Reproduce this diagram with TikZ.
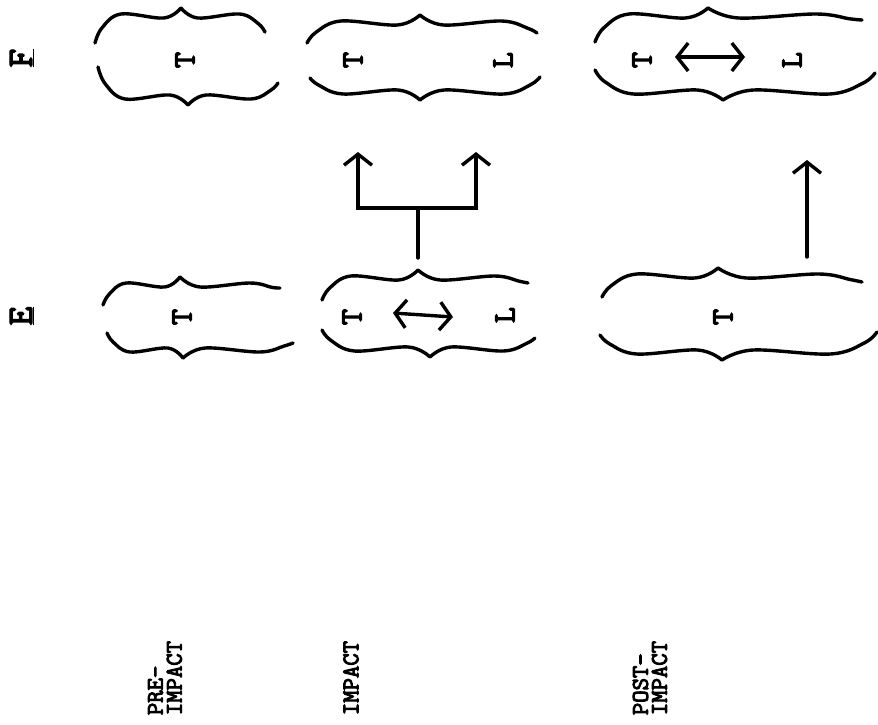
\documentclass[tikz,border=0pt]{standalone}
\usepackage{fontspec}
\newfontfamily\tw[FakeBold=4]{Latin Modern Mono}
\usetikzlibrary{arrows.meta}
\tikzset{
  brace/.style={line width=3.4pt, line cap=round, line join=round},
  conn/.style={line width=3.4pt, line cap=round, line join=miter},
  arr/.style={conn, -{Straight Barb[length=11pt,width=28pt,line width=3.4pt]}},
  darr/.style={conn, {Straight Barb[length=11pt,width=28pt,line width=3.4pt]}-{Straight Barb[length=11pt,width=28pt,line width=3.4pt]}},
  letter/.style={font=\tw\fontsize{31}{31}\selectfont, rotate=90, inner sep=0pt},
  head/.style={font=\tw\fontsize{36}{36}\selectfont, rotate=90, inner sep=0pt},
  phase/.style={font=\tw\fontsize{24}{19}\selectfont, rotate=90, inner sep=0pt, align=left},
}
% horizontal brace: x0 y0 (left end), xc yc (cusp), x1 y1 (right end), o (-1 cusp up, +1 cusp down)
\newcommand\hbr[7]{%
  \draw[brace] plot[smooth,tension=0.6] coordinates {(#1,#2)
    ({#1+0.08*(#3-#1)},{#4-#7*10+0.4*(#2-#4+#7*10)})
    ({#1+0.3*(#3-#1)},{#4-#7*10+#7*4})
    ({#1+0.8*(#3-#1)},{#4-#7*10})
    (#3,#4)};
  \draw[brace] plot[smooth,tension=0.6] coordinates {(#5,#6)
    ({#5-0.08*(#5-#3)},{#4-#7*10+0.4*(#6-#4+#7*10)})
    ({#5-0.3*(#5-#3)},{#4-#7*10+#7*4})
    ({#5-0.8*(#5-#3)},{#4-#7*10})
    (#3,#4)};
}
\begin{document}
\begin{tikzpicture}[x=1pt,y=-1pt]
\useasboundingbox (0,0) rectangle (878,724);

% column headings
\node[head] (hF) at (22,58) {\underline{F}};
\node[head] (hE) at (22,316) {\underline{E}};

% braces, F row
\hbr{95}{43}{181}{8}{265}{32}{-1}
\hbr{98}{67}{188}{105}{278}{83}{1}
\hbr{307}{43}{420}{15}{537}{33}{-1}
\hbr{310}{78}{420}{100}{540}{77}{1}
\hbr{595}{42}{708}{8}{862}{20}{-1}
\hbr{595}{70}{723}{100}{875}{73}{1}
% braces, E row
\hbr{103}{305}{180}{277}{280}{288}{-1}
\hbr{107}{333}{183}{358}{293}{343}{1}
\hbr{322}{300}{418}{270}{528}{283}{-1}
\hbr{322}{330}{430}{357}{535}{338}{1}
\hbr{602}{297}{718}{268}{862}{282}{-1}
\hbr{600}{335}{722}{360}{877}{332}{1}

% letters
\node[letter] (fpT) at (185,60) {T};
\node[letter] (fiT) at (353,60) {T};
\node[letter] (fiL) at (503,60) {L};
\node[letter] (foT) at (642,60) {T};
\node[letter] (foL) at (792,60) {L};
\node[letter] (epT) at (182,317) {T};
\node[letter] (eiT) at (352,317) {T};
\node[letter] (eiL) at (505,315) {L};
\node[letter] (eoT) at (723,317) {T};

% double arrows
\draw[darr] ([xshift=33pt,yshift=3pt]foT.center) -- ([xshift=-47pt,yshift=3pt]foL.center);
\draw[darr] ([xshift=41pt,yshift=4pt]eiT.center) -- ([xshift=-52pt,yshift=-2pt]eiL.center);

% impact transfer
\coordinate (eiTop) at (418,258);
\coordinate (tee) at (418,208);
\coordinate (teeL) at (358,208);
\coordinate (teeR) at (476,208);
\coordinate (fiA) at (358,152);
\coordinate (fiB) at (476,152);
\draw[conn] (eiTop) -- (tee);
\draw[arr] (tee) -- (teeL) -- (fiA);
\draw[arr] (tee) -- (teeR) -- (fiB);

% post-impact transfer
\coordinate (eoTop) at (807,257);
\coordinate (foA) at (807,160);
\draw[arr] (eoTop) -- (foA);

% phase labels
\node[phase] (pre) at (165,678) {PRE-\\IMPACT};
\node[phase] (imp) at (351,678) {IMPACT};
\node[phase] (post) at (650,678) {POST-\\IMPACT};
\end{tikzpicture}
\end{document}
